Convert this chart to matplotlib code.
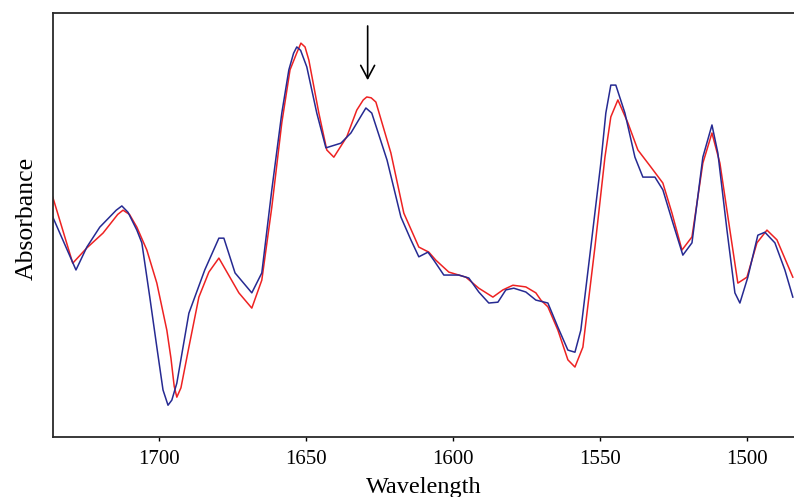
import matplotlib
matplotlib.use("Agg")
import matplotlib.pyplot as plt

# spectra (wavenumber, absorbance in arbitrary units)
wn_blue = [1736.1, 1728.2, 1724.5, 1720.1, 1714.5, 1712.6, 1710.5, 1707.5, 1705.8, 1703.1,
           1700.7, 1698.6, 1696.9, 1695.6, 1693.9, 1689.8, 1684.4, 1679.6, 1677.9, 1674.1,
           1668.4, 1665.0, 1661.6, 1658.2, 1655.8, 1654.2, 1653.1, 1651.8, 1649.7, 1646.3,
           1643.2, 1638.1, 1634.7, 1631.0, 1629.6, 1627.6, 1622.4, 1617.7, 1614.3, 1611.6,
           1608.5, 1606.5, 1603.1, 1598.0, 1594.6, 1591.2, 1587.8, 1584.7, 1582.0, 1579.3,
           1575.2, 1571.8, 1567.7, 1564.3, 1560.9, 1558.5, 1556.5, 1553.1, 1549.7, 1548.0,
           1546.3, 1544.6, 1541.5, 1538.1, 1535.4, 1531.3, 1528.6, 1525.2, 1521.8, 1518.7,
           1515.0, 1511.9, 1509.9, 1506.8, 1504.1, 1502.4, 1499.7, 1496.3, 1493.9, 1490.5,
           1487.1, 1484.4]
abs_blue = [0.519, 0.394, 0.448, 0.495, 0.535, 0.545, 0.530, 0.488, 0.458, 0.330,
            0.212, 0.111, 0.075, 0.087, 0.127, 0.292, 0.394, 0.469, 0.469, 0.387,
            0.340, 0.387, 0.583, 0.764, 0.866, 0.905, 0.920, 0.912, 0.873, 0.764,
            0.682, 0.693, 0.717, 0.760, 0.776, 0.764, 0.653, 0.519, 0.465, 0.425,
            0.436, 0.417, 0.382, 0.382, 0.375, 0.342, 0.316, 0.318, 0.347, 0.351,
            0.342, 0.323, 0.316, 0.259, 0.205, 0.200, 0.252, 0.448, 0.646, 0.764,
            0.830, 0.830, 0.764, 0.660, 0.613, 0.613, 0.583, 0.505, 0.429, 0.458,
            0.660, 0.736, 0.670, 0.488, 0.340, 0.316, 0.377, 0.476, 0.483, 0.458,
            0.394, 0.330]

wn_red = [1736.1, 1729.3, 1724.5, 1719.0, 1714.0, 1712.2, 1710.0, 1707.5, 1704.1, 1700.7,
          1697.3, 1695.9, 1694.8, 1693.9, 1692.5, 1689.8, 1686.4, 1683.0, 1679.6, 1672.8,
          1668.4, 1665.0, 1661.6, 1658.2, 1655.4, 1653.1, 1651.7, 1650.3, 1649.0, 1645.6,
          1642.9, 1640.5, 1636.1, 1632.7, 1630.5, 1629.3, 1627.8, 1626.2, 1621.1, 1616.7,
          1611.6, 1608.2, 1605.8, 1601.4, 1595.6, 1591.2, 1586.4, 1583.0, 1579.6, 1575.2,
          1571.8, 1570.1, 1567.7, 1564.3, 1560.9, 1558.5, 1555.8, 1551.7, 1548.3, 1546.3,
          1543.9, 1540.5, 1537.1, 1532.7, 1528.6, 1525.5, 1522.1, 1518.7, 1515.0, 1511.9,
          1509.2, 1505.8, 1503.1, 1500.0, 1496.6, 1493.2, 1489.8, 1484.4]
abs_red = [0.566, 0.410, 0.446, 0.481, 0.525, 0.535, 0.525, 0.495, 0.441, 0.363,
           0.252, 0.186, 0.120, 0.094, 0.116, 0.212, 0.330, 0.389, 0.422, 0.340,
           0.304, 0.370, 0.542, 0.741, 0.866, 0.906, 0.929, 0.920, 0.889, 0.764,
           0.677, 0.660, 0.708, 0.771, 0.795, 0.802, 0.800, 0.790, 0.670, 0.528,
           0.448, 0.436, 0.417, 0.389, 0.377, 0.351, 0.330, 0.347, 0.358, 0.354,
           0.340, 0.323, 0.307, 0.252, 0.182, 0.165, 0.212, 0.448, 0.660, 0.755,
           0.795, 0.741, 0.677, 0.637, 0.599, 0.528, 0.441, 0.472, 0.646, 0.717,
           0.646, 0.488, 0.363, 0.377, 0.458, 0.488, 0.465, 0.377]

xticks = [1700, 1650, 1600, 1550, 1500]
arrow_wn = 1629.0

plt.rcParams['font.family'] = ['Liberation Serif', 'DejaVu Serif']

fig = plt.figure(figsize=(7.94, 4.97), dpi=100)
ax = fig.add_axes([0.0668, 0.1207, 0.9332, 0.8531])

ax.plot(wn_red, abs_red, color='#ee2222', lw=1.1, solid_joinstyle='round')
ax.plot(wn_blue, abs_blue, color='#262a92', lw=1.1, solid_joinstyle='round')

ax.set_xlim(1736.0, 1484.0)
ax.set_ylim(0, 1)
ax.set_xticks(xticks)
ax.set_yticks([])
ax.tick_params(axis='x', direction='out', length=3, width=1, labelsize=15, pad=6)

for side in ['left', 'bottom', 'top']:
    ax.spines[side].set_color('#2a2a2a')
    ax.spines[side].set_linewidth(1.3)
ax.spines['right'].set_visible(False)

ax.set_xlabel('Wavelength', fontsize=17.5)
ax.xaxis.set_label_coords(0.5, -0.094)
ax.xaxis.label.set_va('top')
ax.set_ylabel('Absorbance', fontsize=18.5)
ax.yaxis.set_label_coords(-0.02, 0.516)

ax.annotate('', xy=(arrow_wn, 0.835), xytext=(arrow_wn, 0.976),
            arrowprops=dict(arrowstyle='->,head_length=0.47,head_width=0.25',
                            mutation_scale=20, lw=1.2, color='black'))

fig.savefig('out.png', dpi=100)
